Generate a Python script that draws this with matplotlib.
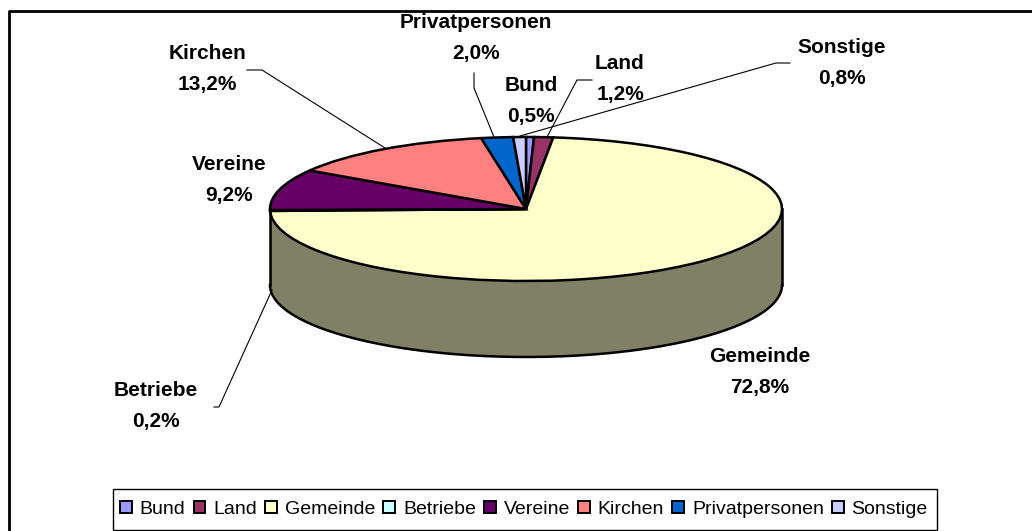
import matplotlib
matplotlib.use("Agg")
import matplotlib.pyplot as plt
import numpy as np
from matplotlib.patches import Patch, Rectangle

names = ["Bund", "Land", "Gemeinde", "Betriebe", "Vereine", "Kirchen", "Privatpersonen", "Sonstige"]
values = [0.5, 1.2, 72.8, 0.2, 9.2, 13.2, 2.0, 0.8]
colors = ["#9999FF", "#993366", "#FFFFCC", "#CCFFFF", "#660066", "#FF8080", "#0066CC", "#CCCCFF"]
side_color = "#808066"

W, H = 1032, 531
# ellipse of the pie in pixels
cx, cy, rx, ry, depth = 526, 209, 256, 72, 76

label_pos = {
    "Bund": (531, 101), "Land": (620, 79), "Gemeinde": (760, 372), "Betriebe": (156, 406),
    "Vereine": (229, 180), "Kirchen": (207, 69), "Privatpersonen": (476, 38), "Sonstige": (842, 63),
}
leaders = {
    "Land": [(592, 80), (577, 80), (547, 137)],
    "Betriebe": [(214, 407), (219, 407), (272, 290)],
    "Kirchen": [(247, 70), (262, 70), (385, 148)],
    "Privatpersonen": [(474, 73), (474, 88), (494, 137)],
    "Sonstige": [(790, 63), (776, 63), (520, 136)],
}

plt.rcParams["font.family"] = ["Liberation Sans", "DejaVu Sans"]
fig = plt.figure(figsize=(W / 100, H / 100), dpi=100)

# overlay in pixel coordinates, for frame, labels and leader lines
bg = fig.add_axes([0, 0, 1, 1], zorder=3)
bg.set_xlim(0, W)
bg.set_ylim(H, 0)
bg.axis("off")
bg.patch.set_alpha(0)

ax = fig.add_axes([(cx - rx) / W, (H - cy - ry - depth) / H, 2 * rx / W, (2 * ry + depth) / H], zorder=2)
d = depth / ry

# side wall, front half of the rim
t = np.radians(np.linspace(180, 360, 200))
ax.fill_between(np.cos(t), np.sin(t), np.sin(t) - d, color=side_color, lw=0)
ax.plot(np.cos(t), np.sin(t) - d, color="black", lw=1.8)
ax.plot([-1, -1], [0, -d], color="black", lw=1.8)
ax.plot([1, 1], [0, -d], color="black", lw=1.8)

wedges, _ = ax.pie(values, colors=colors, startangle=90, counterclock=False,
                   wedgeprops={"edgecolor": "black", "linewidth": 1.8})
ax.set_aspect("auto")
ax.set_xlim(-1, 1)
ax.set_ylim(-1 - d, 1)
ax.axis("off")
for a in ax.get_children():
    a.set_clip_on(False)

# outer frame, only left and top are in the picture
bg.plot([8.5, 8.5, W], [H, 11, 11], color="black", lw=2)

for name, v in zip(names, values):
    x, y = label_pos[name]
    txt = f"{name}\n{v:.1f}%".replace(".", ",")
    bg.text(x, y, txt, ha="center", va="center", fontsize=15, fontweight="bold", linespacing=1.78)

for pts in leaders.values():
    xs, ys = zip(*pts)
    bg.plot(xs, ys, color="black", lw=0.8)

# legend box
bg.add_patch(Rectangle((113, 489), 824, 41, facecolor="white", edgecolor="black", lw=1.0))
handles = [Patch(facecolor=c, edgecolor="black", linewidth=1.4) for c in colors]
leg = fig.legend(handles, names, ncol=8, loc="center", bbox_to_anchor=(524 / W, 1 - 509.5 / H),
                 fontsize=14, frameon=False,
                 handlelength=0.6, handleheight=0.6, handletextpad=0.4, columnspacing=0.43,
                 borderpad=0.3, borderaxespad=0)
leg.set_zorder(5)

fig.savefig("out.png", dpi=100)
